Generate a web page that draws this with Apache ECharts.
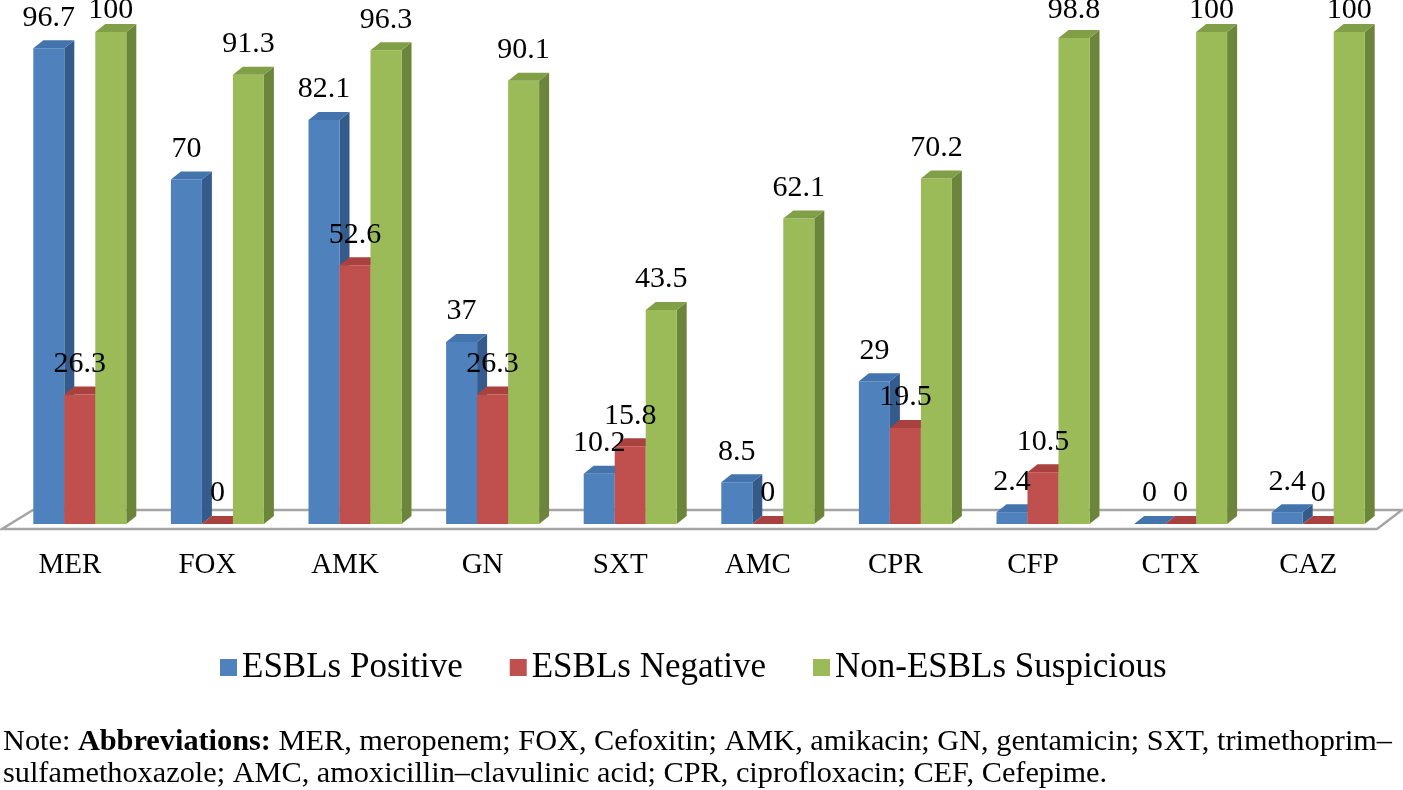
<!DOCTYPE html>
<html><head><meta charset="utf-8">
<script src="https://cdn.jsdelivr.net/npm/echarts@6/dist/echarts.min.js"></script>
<style>html,body{margin:0;padding:0;background:#fff}#c{width:1403px;height:790px}</style>
</head><body><div id="c"></div>
<script>
const categories = ['MER','FOX','AMK','GN','SXT','AMC','CPR','CFP','CTX','CAZ'];
const esblPositive = [96.7, 70, 82.1, 37, 10.2, 8.5, 29, 2.4, 0, 2.4];
const esblNegative = [26.3, 0, 52.6, 26.3, 15.8, 0, 19.5, 10.5, 0, 0];
const nonEsblSuspicious = [100, 91.3, 96.3, 90.1, 43.5, 62.1, 70.2, 98.8, 100, 100];
const seriesNames = ['ESBLs Positive', 'ESBLs Negative', 'Non-ESBLs Suspicious'];
const noteLabel = 'Note: ';
const noteBold = 'Abbreviations:';
const noteLine1 = ' MER, meropenem; FOX, Cefoxitin; AMK, amikacin; GN, gentamicin; SXT, trimethoprim–';
const noteLine2 = 'sulfamethoxazole; AMC, amoxicillin–clavulinic acid; CPR, ciprofloxacin; CEF, Cefepime.';

const FONT = '"Liberation Serif","Times New Roman",serif';
const palettes = [
  {front:'#4F81BD', side:'#345B8C', top:'#4474AE'},
  {front:'#C0504D', side:'#8C3835', top:'#A9423F'},
  {front:'#9BBB59', side:'#6B863B', top:'#809F47'}
];

function makeBar(k){
  return function(params, api){
    const idx = api.value(0), val = api.value(1);
    const band = api.size([1, 0])[0];
    const w = band * 31 / 137.6;
    const dx = band * 10 / 137.6, dy = 8;
    const c = api.coord([idx, val]);
    const base = api.coord([idx, 0]);
    const x = c[0] + (k - 1.5) * w;
    const yt = c[1], yb = base[1];
    const pal = palettes[k];
    const labelBase = Math.max(yt - dy - 12, 21);
    return {type:'group', children:[
      {type:'polygon', shape:{points:[[x+w,yt],[x+w+dx,yt-dy],[x+w+dx,yb-dy],[x+w,yb]]}, style:{fill:pal.side}},
      {type:'rect', shape:{x:x, y:yt, width:w, height:Math.max(yb-yt,0)}, style:{fill:pal.front}},
      {type:'polygon', shape:{points:[[x,yt],[x+dx,yt-dy],[x+w+dx,yt-dy],[x+w,yt]]}, style:{fill:pal.top}},
      {type:'text', z2:100, style:{text:String(val), x:x+w/2, y:labelBase-10.5, align:'center', verticalAlign:'middle', textAlign:'center', textVerticalAlign:'middle', font:'30px ' + FONT, fill:'#000'}}
    ]};
  };
}

function floorItem(params, api){
  const n = categories.length;
  const band = api.size([1, 0])[0];
  const first = api.coord([0, 0]);
  const last = api.coord([n - 1, 0]);
  const left = first[0] - band / 2, right = last[0] + band / 2;
  const y0 = first[1];
  return {type:'polygon', shape:{points:[[left-9,y0+5],[right-10,y0+5],[right+15,y0-14],[left+22,y0-14]]},
    style:{fill:'#fff', stroke:'#A5A5A5', lineWidth:2.5}};
}

const valueSets = [esblPositive, esblNegative, nonEsblSuspicious];
const series = [{
  type:'custom', name:'floor', renderItem: floorItem, data:[[0, 0]], clip:false, silent:true
}];
valueSets.forEach((vals, k) => {
  series.push({
    type:'custom', name: seriesNames[k], renderItem: makeBar(k), clip:false,
    itemStyle:{color: palettes[k].front},
    encode:{x:0, y:1},
    data: vals.map((v, i) => [i, v])
  });
});

const chart = echarts.init(document.getElementById('c'), null, {renderer:'canvas'});
chart.setOption({
  animation:false,
  backgroundColor:'#fff',
  grid:{left:11, right:16, top:32, bottom:266},
  xAxis:{type:'category', data:categories,
    axisLine:{show:false}, axisTick:{show:false}, splitLine:{show:false},
    axisLabel:{fontSize:29, fontFamily:FONT, color:'#000', margin:27, padding:[0,20,0,0]}},
  yAxis:{type:'value', min:0, max:100, show:false},
  legend:{data:seriesNames, left:215, top:645, icon:'rect', itemWidth:17, itemHeight:17, itemGap:47,
    textStyle:{fontSize:35, fontFamily:FONT, color:'#000'}},
  series: series,
  graphic:[
    {type:'text', x:3, y:742.5, style:{text:'{n|' + noteLabel + '}{b|' + noteBold + '}{n|' + noteLine1 + '}',
      verticalAlign:'middle', textVerticalAlign:'middle',
      rich:{n:{fontSize:30.3, fontFamily:FONT, color:'#000'}, b:{fontSize:30.3, fontFamily:FONT, fontWeight:'bold', color:'#000'}}}},
    {type:'text', x:3, y:774.5, style:{text:noteLine2, verticalAlign:'middle', textVerticalAlign:'middle', font:'30.3px ' + FONT, fill:'#000'}}
  ]
});
</script></body></html>
